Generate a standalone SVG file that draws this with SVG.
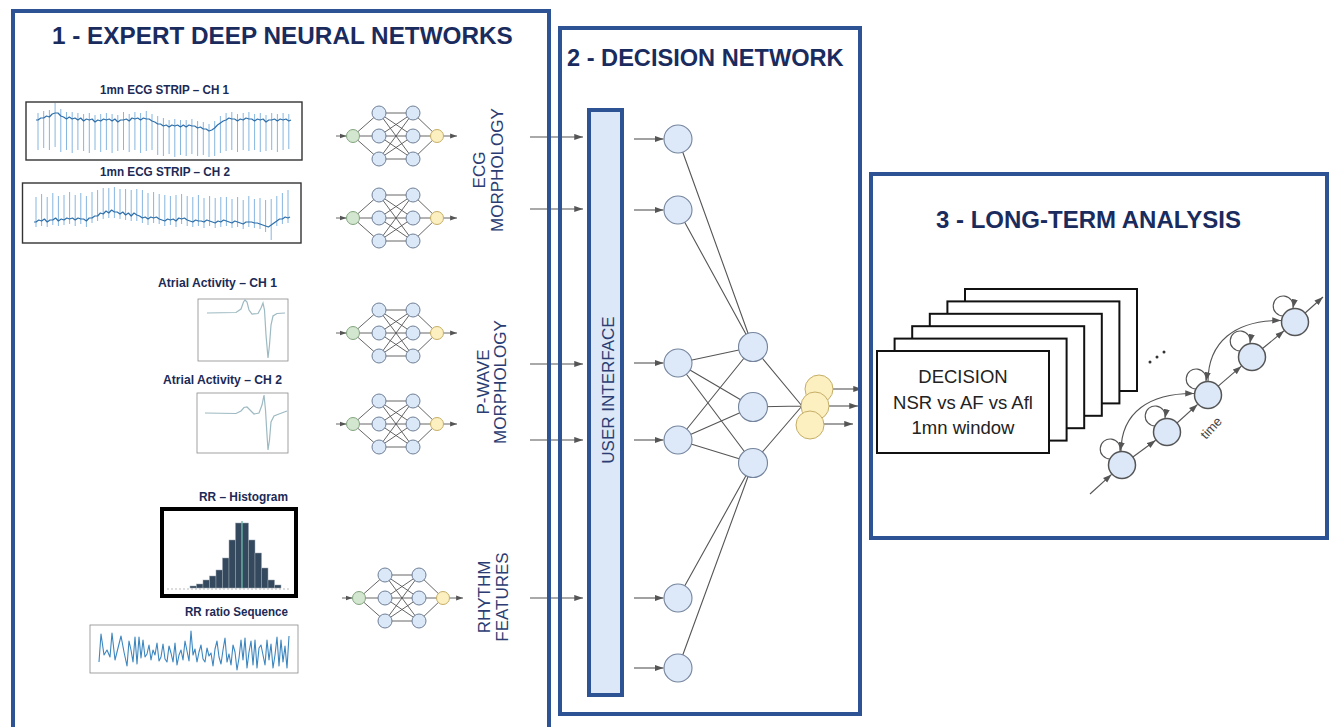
<svg xmlns="http://www.w3.org/2000/svg" xmlns:xlink="http://www.w3.org/1999/xlink" width="1332" height="727" viewBox="0 0 1332 727">
<style>
.panel{fill:none;stroke:#2E5395;stroke-width:4}
.title{font-family:"Liberation Sans",Arial,sans-serif;font-weight:bold;fill:#1A2B5E}
.lbl{font-family:"Liberation Sans",Arial,sans-serif;font-weight:bold;font-size:12px;fill:#1B2A56}
.vlbl{font-family:"Liberation Sans",Arial,sans-serif;font-size:17px;fill:#2B3D72;text-anchor:middle}
.hid{fill:#DBE8F8;stroke:#6F7F96;stroke-width:1}
.gin{fill:#D3E6CF;stroke:#82A57E;stroke-width:1}
.yout{fill:#FCEFC0;stroke:#C5AE66;stroke-width:1}
.nl{stroke:#555;stroke-width:0.9;fill:none}
.dn{fill:#DDE8F8;stroke:#74849C;stroke-width:1.1}
.conn{stroke:#555;stroke-width:1.1;fill:none}
.arr{marker-end:url(#ah)}
.arrs{marker-end:url(#ahs)}
.mk{fill:#DCE8F8;stroke:#555;stroke-width:1.5}
.win{fill:#fff;stroke:#111;stroke-width:2}
.wtxt{font-family:"Liberation Sans",Arial,sans-serif;font-size:18.5px;fill:#222;text-anchor:middle}
.plot{fill:#fff;stroke:#8a8a8a;stroke-width:0.8}
.ecgspk{stroke:#79AEDB;stroke-width:0.9;fill:none}
.ecgbase{stroke:#2F70AA;stroke-width:1.2;fill:none;stroke-linejoin:round}
.bar{fill:#34495E;stroke:#9AA5B1;stroke-width:0.5}
</style>
<defs>
<marker id="ah" viewBox="0 0 10 8" markerWidth="9" markerHeight="7" refX="10" refY="4" orient="auto" markerUnits="userSpaceOnUse"><path d="M0,0.5 L10,4 L0,7.5 z" fill="#555"/></marker>
<marker id="ahs" viewBox="0 0 10 8" markerWidth="7" markerHeight="5.5" refX="10" refY="4" orient="auto" markerUnits="userSpaceOnUse"><path d="M0,0.5 L10,4 L0,7.5 z" fill="#555"/></marker>
<g id="nnicon">
<path class="nl" d="M0,0 L26,-23 M0,0 L26,0 M0,0 L26,23 M26,-23 L60,-23 M26,-23 L60,0 M26,-23 L60,23 M26,0 L60,-23 M26,0 L60,0 M26,0 L60,23 M26,23 L60,-23 M26,23 L60,0 M26,23 L60,23 M60,-23 L84,0 M60,0 L84,0 M60,23 L84,0"/>
<line class="nl arrs" x1="-17" y1="0" x2="-6.5" y2="0"/>
<line class="nl arrs" x1="90.5" y1="0" x2="104" y2="0"/>
<circle class="gin" cx="0" cy="0" r="6.5"/>
<circle class="hid" cx="26" cy="-23" r="7"/><circle class="hid" cx="26" cy="0" r="7"/><circle class="hid" cx="26" cy="23" r="7"/>
<circle class="hid" cx="60" cy="-23" r="7"/><circle class="hid" cx="60" cy="0" r="7"/><circle class="hid" cx="60" cy="23" r="7"/>
<circle class="yout" cx="84" cy="0" r="6.5"/>
</g>
</defs>
<rect width="1332" height="727" fill="#fff"/>

<!-- Panel 1 content -->
<g id="panel1-title"><text class="title" x="52" y="44" font-size="24.3">1 - EXPERT DEEP NEURAL NETWORKS</text></g>

<g id="ecg-ch1">
<text class="lbl" x="100" y="94" textLength="129" lengthAdjust="spacingAndGlyphs">1mn ECG STRIP – CH 1</text>
<rect x="26" y="102" width="276" height="58" fill="#fff" stroke="#333" stroke-width="1.4"/>
<path class="ecgspk" d="M38,113V150 M43.7,111V148 M49.4,110V150 M55.1,103V147 M60.8,109V152 M66.5,112V150 M72.2,112V153 M77.9,113V150 M83.6,114V151 M89.3,113V153 M95,115V150 M100.7,114V152 M106.4,113V150 M112.1,114V153 M117.8,115V151 M123.5,112V150 M129.2,114V152 M134.9,112V150 M140.6,113V153 M146.3,111V151 M152,114V150 M157.7,116V155 M163.4,118V156 M169.1,120V154 M174.8,119V157 M180.5,120V155 M186.2,120V156 M191.9,119V154 M197.6,121V156 M203.3,122V155 M209,124V157 M214.7,121V156 M220.4,116V153 M226.1,113V151 M231.8,112V150 M237.5,114V152 M243.2,113V150 M248.9,112V151 M254.6,114V150 M260.3,113V152 M266,115V151 M271.7,113V150 M277.4,114V152 M283.1,113V150 M288.8,114V149"/>
<path class="ecgbase" d="M36,120 L38,120 L40.8,118 L43.7,118 L46.5,116 L49.4,117 L52.2,114 L55.1,113 L58,113 L60.8,116 L63.6,117 L66.5,119 L69.3,117 L72.2,119 L75,118 L77.9,120 L80.7,118 L83.6,121 L86.4,119 L89.3,120 L92.1,119 L95,122 L97.8,120 L100.7,121 L103.5,119 L106.4,120 L109.2,119 L112.1,121 L114.9,119 L117.8,122 L120.6,120 L123.5,120 L126.3,119 L129.2,121 L132,118 L134.9,119 L137.7,118 L140.6,120 L143.4,118 L146.3,119 L149.1,119 L152,121 L154.8,122 L157.7,124 L160.5,124 L163.4,126 L166.2,125 L169.1,127 L171.9,125 L174.8,126 L177.6,125 L180.5,127 L183.3,125 L186.2,127 L189,125 L191.9,126 L194.7,126 L197.6,128 L200.4,127 L203.3,129 L206.1,129 L209,131 L211.8,130 L214.7,128 L217.5,125 L220.4,123 L223.2,121 L226.1,120 L228.9,118 L231.8,119 L234.6,119 L237.5,121 L240.3,119 L243.2,120 L246,118 L248.9,119 L251.7,119 L254.6,121 L257.4,119 L260.3,120 L263.1,119 L266,122 L268.8,120 L271.7,120 L274.5,119 L277.4,121 L280.2,119 L283.1,120 L285.9,119 L288.8,121 L291,120"/>
</g>

<g id="ecg-ch2">
<text class="lbl" x="100" y="176" textLength="130" lengthAdjust="spacingAndGlyphs">1mn ECG STRIP – CH 2</text>
<rect x="22.5" y="183" width="278.5" height="60" fill="#fff" stroke="#333" stroke-width="1.4"/>
<path class="ecgspk" d="M36,197V227 M41.6,194V226 M47.2,197V227 M52.8,193V225 M58.4,196V226 M64,195V225 M69.6,192V224 M75.2,195V226 M80.8,193V224 M86.4,196V227 M92,192V223 M97.6,190V221 M103.2,188V219 M108.8,188V218 M114.4,187V218 M120,189V219 M125.6,189V220 M131.2,190V221 M136.8,189V221 M142.4,190V223 M148,193V225 M153.6,192V223 M159.2,194V224 M164.8,195V226 M170.4,196V225 M176,195V227 M181.6,194V224 M187.2,196V226 M192.8,197V227 M198.4,195V226 M204,198V228 M209.6,196V226 M215.2,198V228 M220.8,197V227 M226.4,197V226 M232,199V228 M237.6,197V227 M243.2,200V229 M248.8,196V227 M254.4,199V228 M260,198V229 M265.6,200V232 M271.2,199V240 M276.8,196V226 M282.4,193V224 M288,190V223"/>
<path class="ecgbase" d="M34,222 L36,222 L38.8,220 L41.6,221 L44.4,219 L47.2,222 L50,220 L52.8,220 L55.6,218 L58.4,221 L61.2,219 L64,220 L66.8,218 L69.6,219 L72.4,218 L75.2,220 L78,218 L80.8,219 L83.6,219 L86.4,221 L89.2,218 L92,218 L94.8,216 L97.6,216 L100.4,213 L103.2,214 L106,211 L108.8,213 L111.6,210 L114.4,212 L117.2,212 L120,214 L122.8,212 L125.6,215 L128.4,213 L131.2,216 L134,213 L136.8,215 L139.6,216 L142.4,218 L145.2,217 L148,219 L150.8,217 L153.6,218 L156.4,217 L159.2,219 L162,220 L164.8,221 L167.6,219 L170.4,220 L173.2,219 L176,221 L178.8,218 L181.6,219 L184.4,218 L187.2,220 L190,221 L192.8,222 L195.6,220 L198.4,221 L201.2,221 L204,222 L206.8,220 L209.6,221 L212.4,222 L215.2,223 L218,221 L220.8,222 L223.6,220 L226.4,221 L229.2,222 L232,223 L234.8,221 L237.6,222 L240.4,223 L243.2,224 L246,222 L248.8,222 L251.6,222 L254.4,223 L257.2,223 L260,224 L262.8,225 L265.6,226 L268.4,227 L271.2,225 L274,223 L276.8,221 L279.6,219 L282.4,219 L285.2,217 L288,218 L290,217"/>
</g>

<g id="atrial-ch1">
<text class="lbl" x="158" y="287" textLength="119" lengthAdjust="spacingAndGlyphs">Atrial Activity – CH 1</text>
<rect class="plot" x="198" y="299" width="90" height="62"/>
<path d="M207,313 L236,312.5 L241,309 L243.5,302 L245,300 L247,302 L249,310 L252,314 L258,313.5 L261,308 L263,303 L264.5,310 L266,335 L268,358 L269.5,345 L271,325 L273,316 L277,313.5 L285,313" fill="none" stroke="#9DBAC2" stroke-width="1.2"/>
</g>

<g id="atrial-ch2">
<text class="lbl" x="163" y="384" textLength="119" lengthAdjust="spacingAndGlyphs">Atrial Activity – CH 2</text>
<rect class="plot" x="197" y="393" width="91" height="60"/>
<path d="M205,413 L236,413.5 L241,411 L244,407.5 L247,407 L250,410 L254,414 L259,413 L262,405 L264,395 L265.5,410 L267,435 L268,450 L269.5,440 L271,422 L274,416 L279,414 L287,411" fill="none" stroke="#9DBAC2" stroke-width="1.2"/>
</g>

<g id="rr-histogram">
<text class="lbl" x="199" y="501" textLength="89" lengthAdjust="spacingAndGlyphs">RR – Histogram</text>
<rect x="162" y="509" width="134" height="87" fill="#fff" stroke="#000" stroke-width="4"/>
<line x1="167" y1="589" x2="291" y2="589" stroke="#bbb" stroke-width="1" stroke-dasharray="2 2"/>
<rect class="bar" x="190" y="586" width="6.5" height="2"/>
<rect class="bar" x="196.5" y="584" width="6.5" height="4"/>
<rect class="bar" x="203" y="580" width="6.5" height="8"/>
<rect class="bar" x="209.5" y="576" width="6.5" height="12"/>
<rect class="bar" x="216" y="570" width="6.5" height="18"/>
<rect class="bar" x="222.5" y="558" width="6.5" height="30"/>
<rect class="bar" x="229" y="540" width="6.5" height="48"/>
<rect class="bar" x="235.5" y="523" width="6.5" height="65"/>
<rect class="bar" x="242" y="523" width="6.5" height="65"/>
<rect class="bar" x="248.5" y="540" width="6.5" height="48"/>
<rect class="bar" x="255" y="553" width="6.5" height="35"/>
<rect class="bar" x="261.5" y="568" width="6.5" height="20"/>
<rect class="bar" x="268" y="580" width="6.5" height="8"/>
<rect class="bar" x="274.5" y="585" width="6.5" height="3"/>
<line x1="242" y1="521" x2="242" y2="588" stroke="#5FB3A0" stroke-width="1.2"/>
</g>

<g id="rr-sequence">
<text class="lbl" x="185" y="616" textLength="103" lengthAdjust="spacingAndGlyphs">RR ratio Sequence</text>
<rect class="plot" x="90" y="625" width="208" height="48"/>
<polyline fill="none" stroke="#3C86BF" stroke-width="1.1" stroke-linejoin="round" points="99,662 101,634 104,655 107,650 110,657 112,633 115,660 118,648 121,636 124,652 127,666 129,641 131,650 133,662 135,637 137,664 139,637 141,658 143,640 145,657 147,654 149,645 151,660 153,650 155,655 157,643 159,661 161,657 163,644 165,659 167,662 169,646 171,653 173,662 175,643 177,665 179,655 181,650 183,660 185,641 187,651 189,661 191,631 193,655 195,649 197,662 199,652 201,645 203,659 205,662 207,648 209,656 211,653 213,666 215,649 217,641 219,657 221,664 223,650 225,638 227,662 229,654 231,665 233,645 235,652 237,670 239,658 241,640 243,660 245,638 247,668 249,652 251,641 253,665 255,640 257,668 259,648 261,645 263,655 265,665 267,640 269,660 271,644 273,668 275,655 277,637 279,666 281,640 283,662 285,646 287,668 289,636"/>
</g>

<g id="expert-net-1"><use xlink:href="#nnicon" href="#nnicon" x="353" y="136"/></g>
<g id="expert-net-2"><use xlink:href="#nnicon" href="#nnicon" x="353" y="218"/></g>
<g id="expert-net-3"><use xlink:href="#nnicon" href="#nnicon" x="353" y="333"/></g>
<g id="expert-net-4"><use xlink:href="#nnicon" href="#nnicon" x="353" y="424"/></g>
<g id="expert-net-5"><use xlink:href="#nnicon" href="#nnicon" x="359" y="598"/></g>

<g id="label-ecg">
<text class="vlbl" transform="translate(485,170) rotate(-90)">ECG</text>
<text class="vlbl" transform="translate(503,170) rotate(-90)">MORPHOLOGY</text>
</g>
<g id="label-pwave">
<text class="vlbl" transform="translate(489,382) rotate(-90)">P-WAVE</text>
<text class="vlbl" transform="translate(506,382) rotate(-90)">MORPHOLOGY</text>
</g>
<g id="label-rhythm">
<text class="vlbl" transform="translate(490,597) rotate(-90)">RHYTHM</text>
<text class="vlbl" transform="translate(508,597) rotate(-90)">FEATURES</text>
</g>

<!-- Panel 2 content -->
<g id="panel2-title"><text class="title" x="567" y="66" font-size="23.6">2 - DECISION NETWORK</text></g>

<g id="user-interface">
<rect x="589" y="110" width="33" height="585" fill="#DCE7F7" stroke="#2E5395" stroke-width="4"/>
<text class="vlbl" transform="translate(614,390) rotate(-90)">USER INTERFACE</text>
</g>

<g id="connectors">
<line class="conn arr" x1="530" y1="137" x2="583" y2="137"/>
<line class="conn arr" x1="530" y1="209" x2="583" y2="209"/>
<line class="conn arr" x1="530" y1="364" x2="583" y2="364"/>
<line class="conn arr" x1="530" y1="440" x2="583" y2="440"/>
<line class="conn arr" x1="530" y1="598" x2="583" y2="598"/>
<line class="conn arr" x1="634" y1="139" x2="663.5" y2="139"/>
<line class="conn arr" x1="634" y1="210" x2="663.5" y2="210"/>
<line class="conn arr" x1="634" y1="363" x2="663.5" y2="363"/>
<line class="conn arr" x1="634" y1="440" x2="663.5" y2="440"/>
<line class="conn arr" x1="634" y1="598" x2="663.5" y2="598"/>
<line class="conn arr" x1="634" y1="668" x2="663.5" y2="668"/>
<path class="conn" stroke-width="1" d="M678,139 L753,347 M678,210 L753,347 M678,363 L753,347 M678,363 L753,407 M678,363 L753,463 M678,440 L753,347 M678,440 L753,407 M678,440 L753,463 M678,598 L753,463 M678,668 L753,463 M753,347 L802,406 M753,407 L802,406 M753,463 L802,406"/>
<line class="conn arr" x1="833" y1="389" x2="862" y2="389"/>
<line class="conn arr" x1="829" y1="406" x2="858" y2="406"/>
<line class="conn arr" x1="824" y1="424" x2="853" y2="424"/>
<!-- Markov chain connectors -->
<line class="conn arr" stroke-width="1.3" x1="1090" y1="494" x2="1111.6" y2="474.4"/>
<line class="conn arr" stroke-width="1.3" x1="1132.9" y1="457" x2="1155.7" y2="440.3"/>
<line class="conn arr" stroke-width="1.3" x1="1177" y1="423" x2="1197.6" y2="404.4"/>
<line class="conn arr" stroke-width="1.3" x1="1218.2" y1="386.2" x2="1241.4" y2="366.2"/>
<line class="conn arr" stroke-width="1.3" x1="1262.5" y1="348.5" x2="1284.1" y2="330.8"/>
<line class="conn arr" stroke-width="1.3" x1="1305.1" y1="313" x2="1323" y2="297"/>
<path class="conn arr" stroke-width="1.3" d="M1121,451.5 C1121,412 1150,393 1194,393.5"/>
<path class="conn arr" stroke-width="1.3" d="M1208,381.5 C1208,342 1235,320 1281,320.5"/>
<path class="conn arr" stroke-width="1.3" d="M1110,459 A10 10 0 1 1 1120,451"/>
<path class="conn arr" stroke-width="1.3" d="M1155,426 A10 10 0 1 1 1165,418"/>
<path class="conn arr" stroke-width="1.3" d="M1196,389 A10 10 0 1 1 1206,381"/>
<path class="conn arr" stroke-width="1.3" d="M1240,351 A10 10 0 1 1 1250,343"/>
<path class="conn arr" stroke-width="1.3" d="M1283,316 A10 10 0 1 1 1293,308"/>
</g>

<g id="decision-inputs">
<circle class="dn" cx="678" cy="139" r="14"/>
<circle class="dn" cx="678" cy="210" r="14"/>
<circle class="dn" cx="678" cy="363" r="14"/>
<circle class="dn" cx="678" cy="440" r="14"/>
<circle class="dn" cx="678" cy="598" r="14"/>
<circle class="dn" cx="678" cy="668" r="14"/>
</g>
<g id="decision-hidden">
<circle class="dn" cx="753" cy="347" r="14.5"/>
<circle class="dn" cx="753" cy="407" r="14.5"/>
<circle class="dn" cx="753" cy="463" r="14.5"/>
</g>
<g id="decision-outputs">
<circle class="yout" cx="819" cy="389" r="14"/>
<circle class="yout" cx="815" cy="406" r="14"/>
<circle class="yout" cx="810" cy="425" r="14"/>
</g>

<!-- Panel 3 content -->
<g id="panel3-title"><text class="title" x="936" y="228" font-size="24">3 - LONG-TERM ANALYSIS</text></g>

<g id="decision-windows">
<rect class="win" x="965" y="289" width="172" height="102"/>
<rect class="win" x="947.4" y="301.4" width="172" height="102"/>
<rect class="win" x="929.8" y="313.8" width="172" height="102"/>
<rect class="win" x="912.2" y="326.2" width="172" height="102"/>
<rect class="win" x="894.6" y="338.6" width="172" height="102"/>
<rect class="win" x="877" y="351" width="172" height="102"/>
<text class="wtxt" x="963" y="383">DECISION</text>
<text class="wtxt" x="963" y="409">NSR vs AF vs Afl</text>
<text class="wtxt" x="963" y="434">1mn window</text>
</g>

<g id="ellipsis">
<circle cx="1150" cy="362" r="1.5" fill="#333"/>
<circle cx="1157" cy="357" r="1.5" fill="#333"/>
<circle cx="1164" cy="352" r="1.5" fill="#333"/>
</g>

<g id="markov-states">
<circle class="mk" cx="1122" cy="465" r="13.5"/>
<circle class="mk" cx="1167" cy="432" r="13.5"/>
<circle class="mk" cx="1208" cy="395" r="13.5"/>
<circle class="mk" cx="1252" cy="357" r="13.5"/>
<circle class="mk" cx="1295" cy="322" r="13.5"/>
</g>
<g id="time-label"><text x="0" y="0" transform="translate(1206,440) rotate(-47)" font-family="'Liberation Sans',Arial,sans-serif" font-size="13" fill="#444">time</text></g>

<!-- Panel frames -->
<g id="panels">
<rect class="panel" x="13" y="11" width="536" height="740"/>
<rect class="panel" x="560" y="28" width="300" height="686"/>
<rect class="panel" x="871" y="174" width="456" height="364"/>
</g>
</svg>
